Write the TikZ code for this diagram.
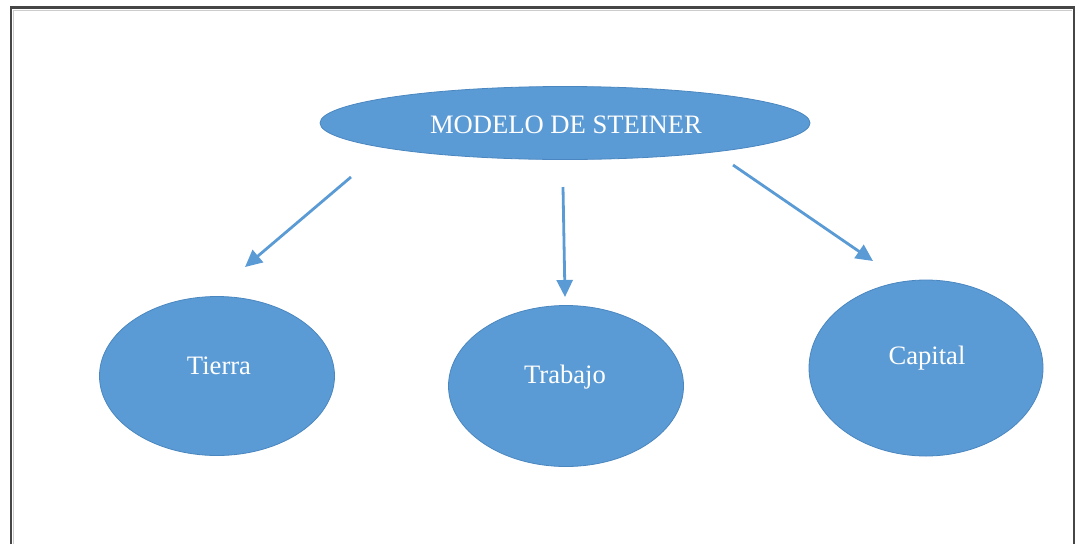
\documentclass[tikz,border=0pt]{standalone}
\usepackage{fontspec}
\setmainfont{Liberation Serif}
\usetikzlibrary{shapes.geometric,arrows.meta}
\definecolor{obl}{HTML}{5B9BD5}
\definecolor{obd}{HTML}{4A86BF}
\definecolor{frm}{HTML}{464646}
\tikzset{
  bub/.style={ellipse, fill=obl, draw=obd, line width=0.8pt, inner sep=0pt},
  lbl/.style={text=white, font=\fontsize{26.6}{30}\selectfont},
  con/.style={draw=obl, line width=2.8pt, -{Triangle[length=17pt,width=16pt]}}
}
\begin{document}
\begin{tikzpicture}[x=1pt,y=-1pt]
\useasboundingbox (0,0) rectangle (1083,544);
\draw[frm, line width=2.5pt] (11,544) -- (11,7.5) -- (1074,7.5) -- (1074,544);
\draw[gray!40, line width=1pt] (13.5,544) -- (13.5,10) -- (1072,10);
\node[bub, minimum width=490pt, minimum height=73pt] (m) at (565,123) {};
\node[lbl] (mt) at (566,125) {MODELO DE STEINER};
\node[bub, minimum width=235pt, minimum height=159pt] (t) at (217,376) {};
\node[lbl] (tt) at (219,366) {Tierra};
\node[bub, minimum width=235pt, minimum height=161pt] (b) at (566,386) {};
\node[lbl] (bt) at (565,377) {Trabajo};
\node[bub, minimum width=234pt, minimum height=176pt] (c) at (926,368) {};
\node[lbl] (ct) at (927,358) {Capital};
\coordinate (a1) at (351,177);
\coordinate (e1) at (245,267);
\coordinate (a2) at (563,187);
\coordinate (e2) at (565,297);
\coordinate (a3) at (733,165);
\coordinate (e3) at (873,261);
\draw[con] (a1) -- (e1);
\draw[con] (a2) -- (e2);
\draw[con] (a3) -- (e3);
\end{tikzpicture}
\end{document}
